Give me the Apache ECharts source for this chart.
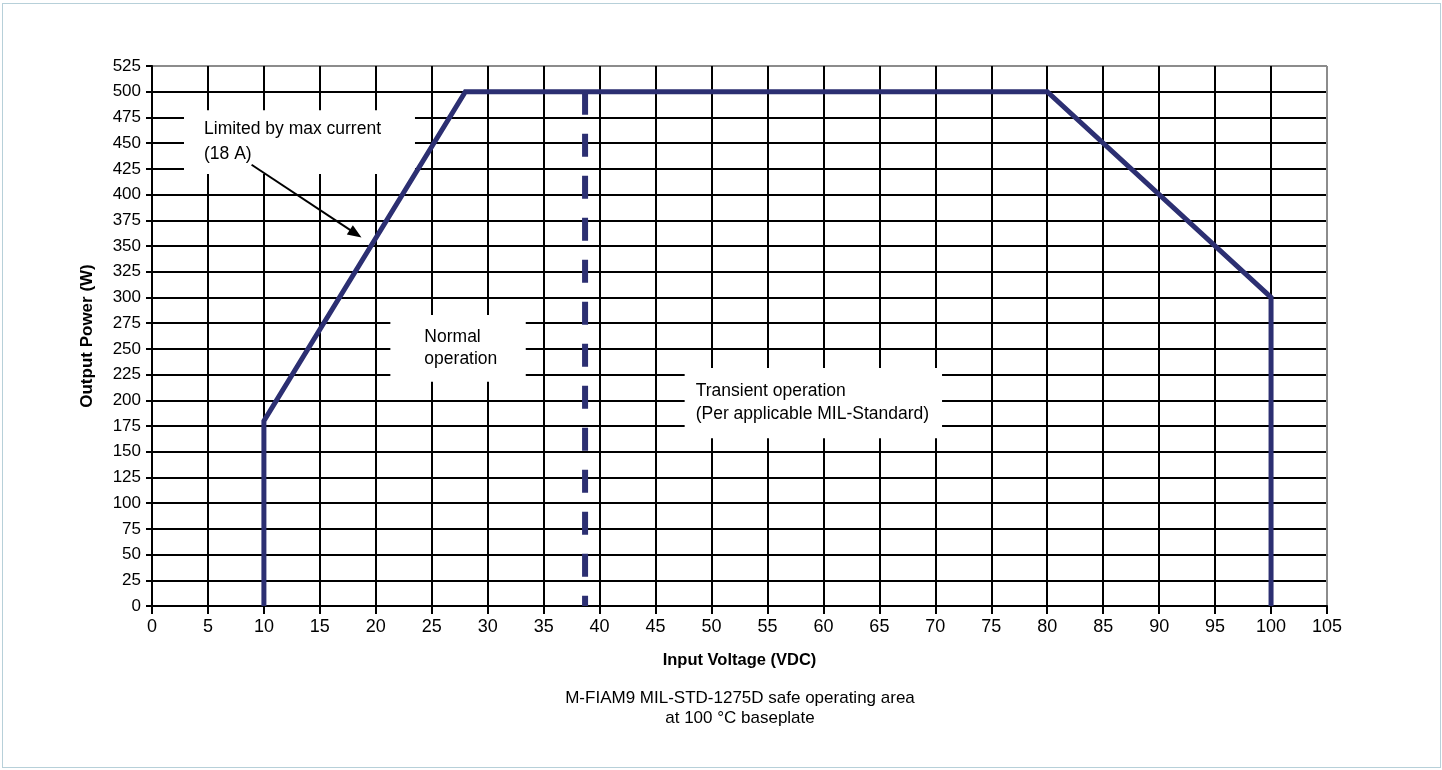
<!DOCTYPE html>
<html><head><meta charset="utf-8">
<script src="https://cdn.jsdelivr.net/npm/echarts@6/dist/echarts.min.js"></script>
<style>
html,body{margin:0;padding:0;background:#fff;}
#frame{position:absolute;left:2px;top:3px;width:1439px;height:765px;border:1.5px solid #b7d0d9;box-sizing:border-box;}
#chart{position:absolute;left:0;top:0;width:1442px;height:770px;}
</style></head><body>
<div id="frame"></div>
<div id="chart"></div>
<script>
// ---- data ----
const soaVoltage = [10, 10, 28, 80, 100, 100];
const soaPower   = [0, 180, 500, 500, 300, 0];
const transientVoltage = [38.7, 38.7];
const transientPower   = [500, 0];
const arrowStart = [8.9, 429];
const arrowEnd   = [18.2, 362];
const boxTexts = ['Limited by max current\n(18 A)', 'Normal\noperation', 'Transient operation\n(Per applicable MIL-Standard)'];
const boxFrom  = [[2.86, 420], [21.3, 218], [47.6, 163]];
const boxTo    = [[23.5, 482], [33.4, 283], [70.6, 231.5]];
const xName = 'Input Voltage (VDC)';
const yName = 'Output Power (W)';
const caption = 'M-FIAM9 MIL-STD-1275D safe operating area\nat 100 °C baseplate';

// ---- styles ----
const FONT = 'Arial, "Liberation Sans", sans-serif';
const NAVY = '#2c2f72';
const boxLabelStyles = [
  {distance: 20, lineHeight: 25},
  {distance: 34, lineHeight: 22},
  {distance: 11, lineHeight: 23}
];
function gridColors(n){ const a=[]; for(let i=0;i<n;i++) a.push(i===n-1?'#8c8c8c':'#000'); return a; }

const chart = echarts.init(document.getElementById('chart'), null, {renderer:'canvas'});
chart.setOption({
  animation: false,
  backgroundColor: 'transparent',
  title: {
    text: caption, left: 740, top: 688, padding: 0, textAlign: 'center',
    textStyle: {fontFamily: FONT, fontSize: 17, fontWeight: 'normal', color: '#000', lineHeight: 20}
  },
  grid: {left: 152, right: 115, top: 66, bottom: 164, containLabel: false},
  xAxis: {
    type: 'value', min: 0, max: 105, interval: 5,
    name: xName, nameLocation: 'middle', nameGap: 46,
    nameTextStyle: {fontFamily: FONT, fontSize: 16.5, fontWeight: 'bold', color: '#000'},
    axisLine: {show: true, lineStyle: {color: '#000', width: 2}},
    axisTick: {show: true, length: 8, lineStyle: {color: '#000', width: 2}},
    axisLabel: {fontFamily: FONT, fontSize: 18, color: '#000', margin: 12},
    splitLine: {show: true, lineStyle: {color: gridColors(22), width: 2}}
  },
  yAxis: {
    type: 'value', min: 0, max: 525, interval: 25,
    name: yName, nameLocation: 'middle', nameGap: 56,
    nameTextStyle: {fontFamily: FONT, fontSize: 17, fontWeight: 'bold', color: '#000'},
    axisLine: {show: true, lineStyle: {color: '#000', width: 2}},
    axisTick: {show: true, length: 6, lineStyle: {color: '#000', width: 2}},
    axisLabel: {fontFamily: FONT, fontSize: 17, color: '#000', margin: 11},
    splitLine: {show: true, lineStyle: {color: gridColors(22), width: 2}}
  },
  series: [
    {
      type: 'line', data: [], z: 2, silent: true,
      markArea: {
        silent: true,
        itemStyle: {color: '#fff', borderWidth: 0},
        label: {show: true, fontFamily: FONT, fontSize: 17.5, color: '#000', position: 'insideLeft', align: 'left', verticalAlign: 'middle'},
        data: boxTexts.map((t, i) => [
          {name: t, coord: boxFrom[i], label: {distance: boxLabelStyles[i].distance, lineHeight: boxLabelStyles[i].lineHeight}},
          {coord: boxTo[i]}
        ])
      }
    },
    {
      type: 'line', z: 3, silent: true, symbol: 'none',
      data: transientVoltage.map((v, i) => [v, transientPower[i]]),
      lineStyle: {color: NAVY, width: 6, type: [23, 19], cap: 'butt'}
    },
    {
      type: 'line', z: 4, silent: true, symbol: 'none',
      data: soaVoltage.map((v, i) => [v, soaPower[i]]),
      lineStyle: {color: NAVY, width: 5, join: 'miter', cap: 'butt'},
      markLine: {
        silent: true, animation: false,
        symbol: ['none', 'triangle'], symbolSize: [11, 14],
        label: {show: false},
        lineStyle: {color: '#000', width: 2, type: 'solid'},
        emphasis: {disabled: true},
        data: [[{coord: arrowStart}, {coord: arrowEnd}]]
      }
    }
  ]
});
</script>
</body></html>
